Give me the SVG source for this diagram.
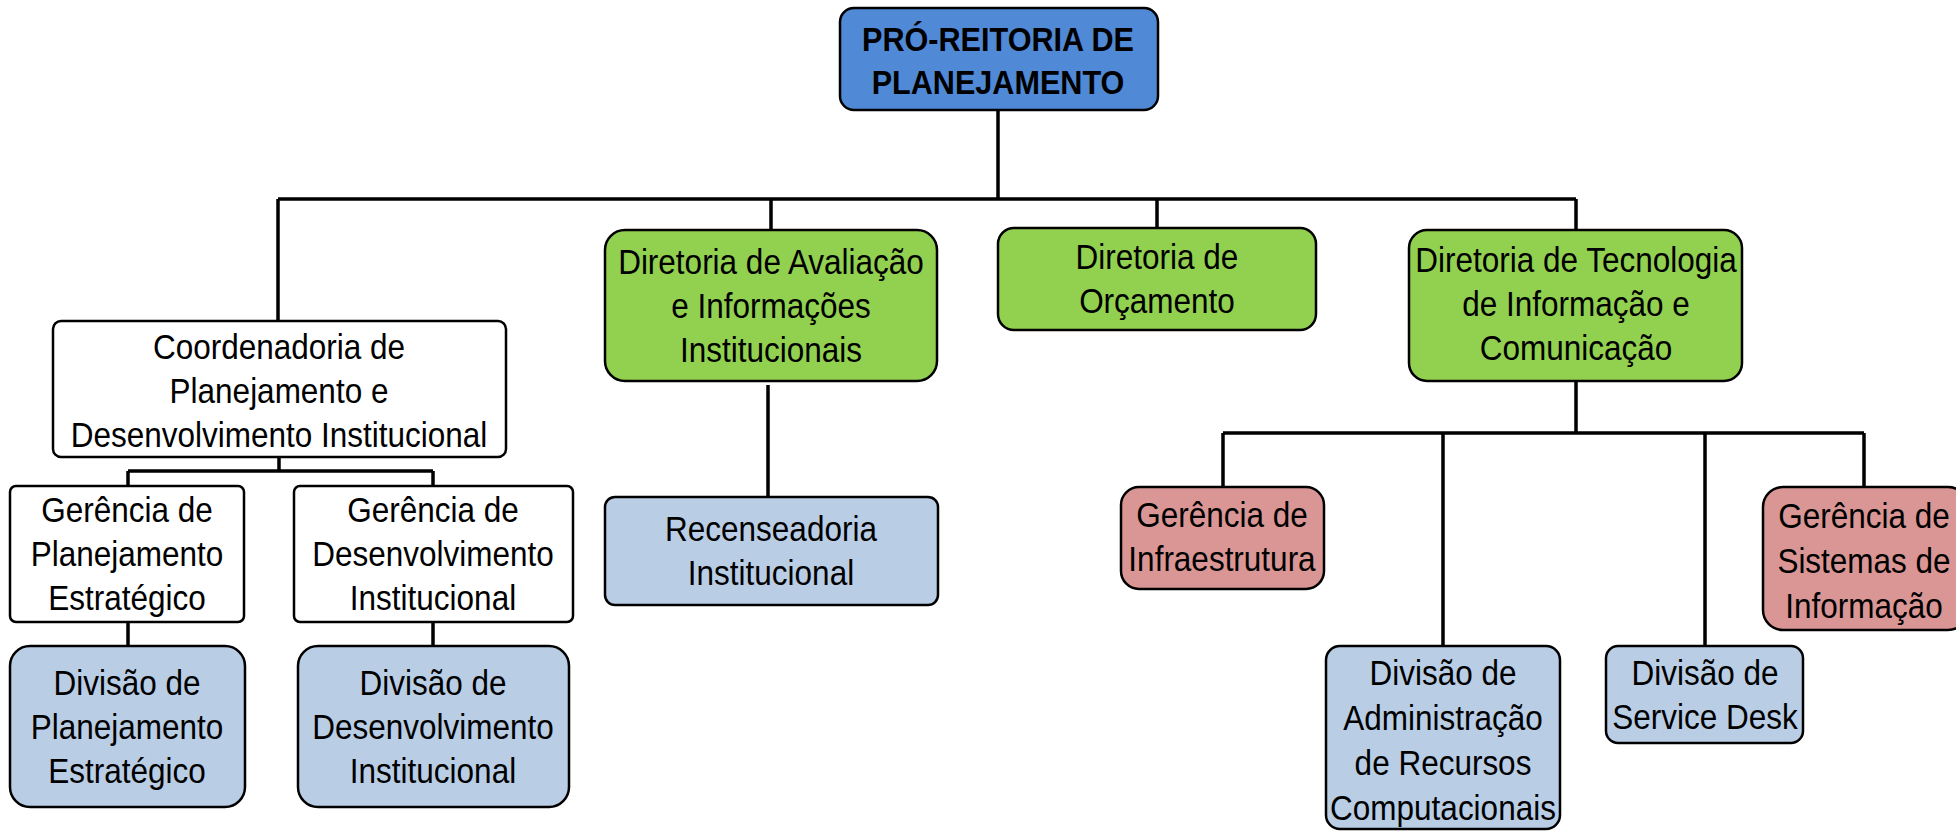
<svg xmlns="http://www.w3.org/2000/svg" width="1956" height="831" viewBox="0 0 1956 831">
<style>
.t{font-family:"Liberation Sans",Arial,sans-serif;font-size:35px;text-anchor:middle;fill:#000}
.b{font-weight:bold;font-size:34px}
.box{stroke:#000;stroke-width:2.5}
.blue{fill:#5089D6}
.green{fill:#92D050}
.white{fill:#FFFFFF}
.lb{fill:#B9CDE5}
.red{fill:#D99694}
.c{fill:none;stroke:#000;stroke-width:3.5}
</style>
<rect width="1956" height="831" fill="#FFFFFF"/>
<g id="connectors">
<path class="c" d="M998 110 V199 M278 199 H1576 M278 199 V321 M771 199 V230 M1157 199 V228 M1576 199 V230"/>
<path class="c" d="M279 457 V471 M128 471 H433 M128 471 V486 M433 471 V486 M128 622 V646 M433 622 V646"/>
<path class="c" d="M768 385 V497"/>
<path class="c" d="M1576 381 V433 M1223 433 H1864 M1223 433 V487 M1443 433 V646 M1705 433 V646 M1864 433 V487"/>
</g>
<g id="n_pro">
<rect class="box blue" x="840" y="8" width="318" height="102" rx="14"/>
<text class="t b" transform="translate(998,0) scale(0.9,1)"><tspan x="0" y="51">PRÓ-REITORIA DE</tspan><tspan x="0" y="94">PLANEJAMENTO</tspan></text>
</g>
<g id="n_aval">
<rect class="box green" x="605" y="230" width="332" height="151" rx="20"/>
<text class="t" transform="translate(771,0) scale(0.9,1)"><tspan x="0" y="274">Diretoria de Avaliação</tspan><tspan x="0" y="318">e Informações</tspan><tspan x="0" y="362">Institucionais</tspan></text>
</g>
<g id="n_orc">
<rect class="box green" x="998" y="228" width="318" height="102" rx="16"/>
<text class="t" transform="translate(1157,0) scale(0.9,1)"><tspan x="0" y="269">Diretoria de</tspan><tspan x="0" y="313">Orçamento</tspan></text>
</g>
<g id="n_dti">
<rect class="box green" x="1409" y="230" width="333" height="151" rx="18"/>
<text class="t" transform="translate(1576,0) scale(0.9,1)"><tspan x="0" y="272">Diretoria de Tecnologia</tspan><tspan x="0" y="316">de Informação e</tspan><tspan x="0" y="360">Comunicação</tspan></text>
</g>
<g id="n_coord">
<rect class="box white" x="53" y="321" width="453" height="136" rx="8"/>
<text class="t" transform="translate(279,0) scale(0.9,1)"><tspan x="0" y="359">Coordenadoria de</tspan><tspan x="0" y="403">Planejamento e</tspan><tspan x="0" y="447">Desenvolvimento Institucional</tspan></text>
</g>
<g id="n_gerplan">
<rect class="box white" x="10" y="486" width="234" height="136" rx="6"/>
<text class="t" transform="translate(127,0) scale(0.9,1)"><tspan x="0" y="522">Gerência de</tspan><tspan x="0" y="566">Planejamento</tspan><tspan x="0" y="610">Estratégico</tspan></text>
</g>
<g id="n_gerdes">
<rect class="box white" x="294" y="486" width="279" height="136" rx="6"/>
<text class="t" transform="translate(433,0) scale(0.9,1)"><tspan x="0" y="522">Gerência de</tspan><tspan x="0" y="566">Desenvolvimento</tspan><tspan x="0" y="610">Institucional</tspan></text>
</g>
<g id="n_divplan">
<rect class="box lb" x="10" y="646" width="235" height="161" rx="20"/>
<text class="t" transform="translate(127,0) scale(0.9,1)"><tspan x="0" y="695">Divisão de</tspan><tspan x="0" y="739">Planejamento</tspan><tspan x="0" y="783">Estratégico</tspan></text>
</g>
<g id="n_divdes">
<rect class="box lb" x="298" y="646" width="271" height="161" rx="20"/>
<text class="t" transform="translate(433,0) scale(0.9,1)"><tspan x="0" y="695">Divisão de</tspan><tspan x="0" y="739">Desenvolvimento</tspan><tspan x="0" y="783">Institucional</tspan></text>
</g>
<g id="n_recens">
<rect class="box lb" x="605" y="497" width="333" height="108" rx="10"/>
<text class="t" transform="translate(771,0) scale(0.9,1)"><tspan x="0" y="541">Recenseadoria</tspan><tspan x="0" y="585">Institucional</tspan></text>
</g>
<g id="n_infra">
<rect class="box red" x="1121" y="487" width="203" height="102" rx="18"/>
<text class="t" transform="translate(1222,0) scale(0.9,1)"><tspan x="0" y="527">Gerência de</tspan><tspan x="0" y="571">Infraestrutura</tspan></text>
</g>
<g id="n_sist">
<rect class="box red" x="1763" y="487" width="205" height="143" rx="20"/>
<text class="t" transform="translate(1864,0) scale(0.9,1)"><tspan x="0" y="528">Gerência de</tspan><tspan x="0" y="573">Sistemas de</tspan><tspan x="0" y="618">Informação</tspan></text>
</g>
<g id="n_admin">
<rect class="box lb" x="1326" y="646" width="234" height="183" rx="14"/>
<text class="t" transform="translate(1443,0) scale(0.9,1)"><tspan x="0" y="685">Divisão de</tspan><tspan x="0" y="730">Administração</tspan><tspan x="0" y="775">de Recursos</tspan><tspan x="0" y="820">Computacionais</tspan></text>
</g>
<g id="n_sd">
<rect class="box lb" x="1606" y="646" width="197" height="97" rx="12"/>
<text class="t" transform="translate(1705,0) scale(0.9,1)"><tspan x="0" y="685">Divisão de</tspan><tspan x="0" y="729">Service Desk</tspan></text>
</g>
</svg>
